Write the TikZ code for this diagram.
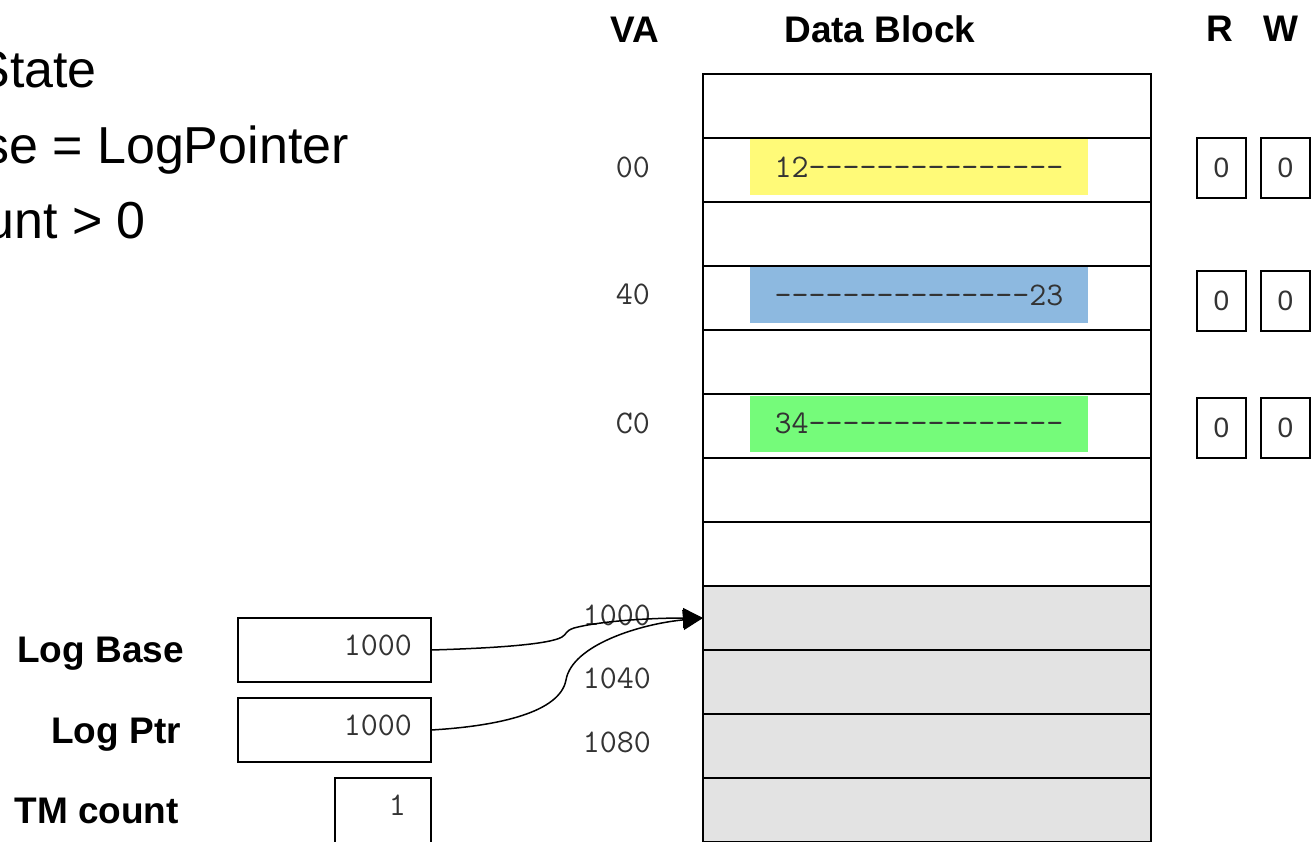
\documentclass[tikz,border=0pt]{standalone}
\usepackage{fontspec}
\setmainfont{Liberation Sans}
\usetikzlibrary{arrows.meta}
\definecolor{hlyellow}{HTML}{FFFA78}
\definecolor{hlblue}{HTML}{8DB9E0}
\definecolor{hlgreen}{HTML}{75FB7A}
\definecolor{logfill}{HTML}{E3E3E3}
\definecolor{txtgray}{HTML}{333333}
\newcommand\dd{-\kern0pt}
\newcommand\dashrun{\dd\dd\dd\dd\dd\dd\dd\dd\dd\dd\dd\dd\dd\dd\dd}
\begin{document}
\begin{tikzpicture}[x=1pt,y=-1pt,
  cell/.style={draw=black, line width=1.8pt, minimum width=448pt, minimum height=64pt, inner sep=0pt, outer sep=0pt},
  hl/.style={minimum width=338pt, minimum height=56pt, inner sep=0pt, font=\ttfamily\fontsize{33}{36}\selectfont, text=txtgray},
  va/.style={anchor=base east, inner sep=0pt, font=\ttfamily\fontsize{33}{36}\selectfont, text=txtgray},
  head/.style={anchor=base, inner sep=0pt, font=\bfseries\fontsize{37}{40}\selectfont},
  big/.style={anchor=base east, inner sep=0pt, font=\fontsize{52}{56}\selectfont},
  lbl/.style={anchor=base east, inner sep=0pt, font=\bfseries\fontsize{37}{40}\selectfont},
  regbox/.style={draw=black, line width=1.5pt, inner sep=0pt, outer sep=0pt},
  bit/.style={draw=black, line width=1.5pt, minimum width=49pt, minimum height=60pt, inner sep=0pt, font=\fontsize{28}{30}\selectfont, text=txtgray},
  link/.style={line width=1.5pt, -{Triangle[length=20pt,width=20pt]}}]
\useasboundingbox (0,0) rectangle (1315,841);
\clip (0,0) rectangle (1315,841);
\fill[white] (0,0) rectangle (1315,841);

% top-left text (clipped at the left edge)
\node[big] (t1) at (97,87) {State};
\node[big] (t2) at (349,163) {se = LogPointer};
\node[big] (t3) at (146,238) {unt > 0};

% headers
\node[head] (hva) at (635,42) {VA};
\node[head] (hdb) at (880,42) {Data Block};
\node[head] (hr) at (1220,41) {R};
\node[head] (hw) at (1281,41) {W};

% data block rows
\foreach \k in {0,...,7}
  \node[cell, fill=white] (r\k) at (927,{106+64*\k}) {};
\foreach \k in {8,...,11}
  \node[cell, fill=logfill] (r\k) at (927,{106+64*\k}) {};

% highlighted data
\node[hl, fill=hlyellow] (h1) at (919,167) {12\dashrun};
\node[hl, fill=hlblue] (h2) at (919,295) {\dashrun 23};
\node[hl, fill=hlgreen] (h3) at (919,423.5) {34\dashrun};

% VA labels
\node[va] (va0) at (650,177) {00};
\node[va] (va1) at (650,304) {40};
\node[va] (va2) at (650,433) {C0};
\node[va] (va3) at (651,625) {1000};
\node[va] (va4) at (651,688) {1040};
\node[va] (va5) at (651,752) {1080};

% R / W bits
\node[bit] (rb1) at (1221.5,168) {0};
\node[bit] (wb1) at (1285.5,168) {0};
\node[bit] (rb2) at (1221.5,301) {0};
\node[bit] (wb2) at (1285.5,301) {0};
\node[bit] (rb3) at (1221.5,428) {0};
\node[bit] (wb3) at (1285.5,428) {0};

% left registers
\node[lbl] (lb) at (184,662) {Log Base};
\node[lbl] (lp) at (181,743) {Log Ptr};
\node[lbl] (lc) at (179,823) {TM count};
\node[regbox, minimum width=193pt, minimum height=64pt] (lbbox) at (334.5,650) {};
\node[regbox, minimum width=193pt, minimum height=64pt] (lpbox) at (334.5,730) {};
\node[regbox, minimum width=96pt, minimum height=90pt] (lcbox) at (383,823) {};
\node[va] (lbv) at (412,655) {1000};
\node[va] (lpv) at (412,735) {1000};
\node[va] (lcv) at (406,815) {1};

% connectors
\draw[link] (lbbox.east) .. controls (500,648) and (550,644) .. (562,637)
  .. controls (567,634) and (565,631) .. (574,628)
  .. controls (600,621) and (650,618) .. (r8.west);
\draw[link] (lpbox.east) .. controls (500,726) and (560,712) .. (566,680)
  .. controls (572,645) and (640,624) .. (r8.west);
\end{tikzpicture}
\end{document}
